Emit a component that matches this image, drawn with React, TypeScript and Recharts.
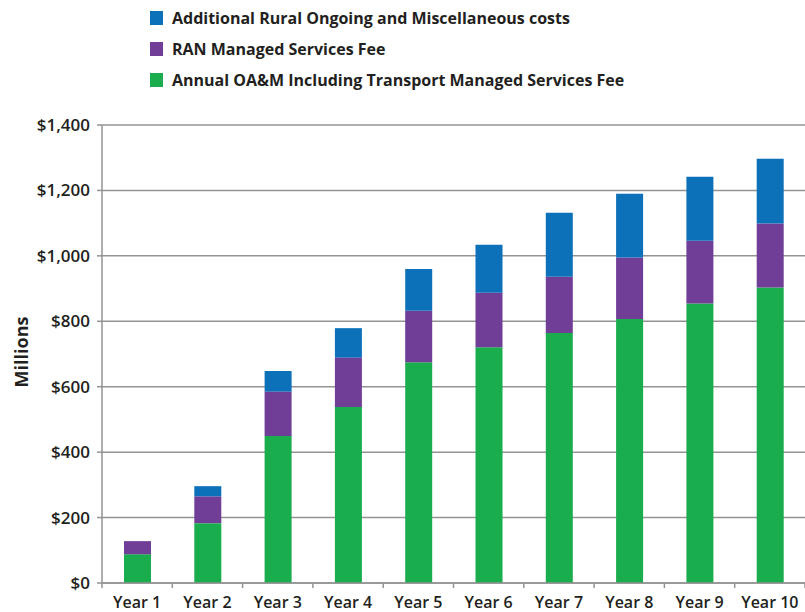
import React from 'react';
import { BarChart, Bar, XAxis, YAxis, CartesianGrid } from 'recharts';

const years = ['Year 1', 'Year 2', 'Year 3', 'Year 4', 'Year 5', 'Year 6', 'Year 7', 'Year 8', 'Year 9', 'Year 10'];
const oamFee = [88, 183, 449, 538, 675, 721, 764, 807, 854, 903];
const ranFee = [40, 82, 136, 151, 157, 166, 172, 188, 192, 196];
const ruralCosts = [0, 31, 63, 90, 128, 147, 196, 195, 196, 198];
const yTicks = [0, 200, 400, 600, 800, 1000, 1200, 1400];

const SERIES = [
  { key: 'rural', name: 'Additional Rural Ongoing and Miscellaneous costs', color: '#0d71b9' },
  { key: 'ran', name: 'RAN Managed Services Fee', color: '#703d97' },
  { key: 'oam', name: 'Annual OA&M Including Transport Managed Services Fee', color: '#1aad4e' },
];

const data = years.map((name, i) => ({
  name,
  oam: oamFee[i],
  ran: ranFee[i],
  rural: ruralCosts[i],
}));

const W = 805;
const H = 612;
const Y_AXIS_W = 102;
const BAND = (W - Y_AXIS_W) / years.length;
const FONT = '"Open Sans", sans-serif';
const TEXT = '#231f20';
const GRID = '#939393';

const XTick = (props: any) => {
  const { x, y, payload, index } = props;
  return (
    <g>
      <line x1={x - BAND / 2} x2={x - BAND / 2} y1={y} y2={y + 5} stroke={GRID} strokeWidth={1.5} />
      {index === years.length - 1 && (
        <line x1={x + BAND / 2} x2={x + BAND / 2} y1={y} y2={y + 5} stroke={GRID} strokeWidth={1.5} />
      )}
      <text x={x} y={y + 21} textAnchor="middle" dominantBaseline="middle"
        fontFamily={FONT} fontWeight={600} fontSize={16} fill={TEXT}>
        {payload.value}
      </text>
    </g>
  );
};

const fmt = (v: number) => '$' + v.toLocaleString('en-US');

export default function App() {
  return (
    <div style={{ position: 'absolute', left: 0, top: 0, width: W, height: H, background: '#fff' }}>
      <div style={{ position: 'absolute', left: 150, top: 2, fontFamily: FONT, fontWeight: 700, fontSize: 16, color: TEXT }}>
        {SERIES.map((s) => (
          <div key={s.key} style={{ display: 'flex', alignItems: 'center', height: 31 }}>
            <span style={{ width: 13, height: 14, background: s.color, marginRight: 9, display: 'inline-block' }} />
            {s.name}
          </div>
        ))}
      </div>
      <div style={{ position: 'absolute', left: 21, top: 352, transform: 'translate(-50%, -50%) rotate(-90deg)',
        fontFamily: FONT, fontWeight: 700, fontSize: 18, color: TEXT, whiteSpace: 'nowrap' }}>
        Millions
      </div>
      <BarChart width={W} height={H} data={data} margin={{ top: 125, right: 0, bottom: 0, left: 0 }} barSize={27}>
        <CartesianGrid vertical={false} stroke={GRID} strokeWidth={1.5} />
        <XAxis dataKey="name" height={29} tickLine={false} tickSize={0} tickMargin={0}
          axisLine={{ stroke: GRID, strokeWidth: 1.5 }} tick={<XTick />} interval={0} />
        <YAxis width={Y_AXIS_W} domain={[0, 1400]} ticks={yTicks} tickFormatter={fmt}
          axisLine={{ stroke: GRID, strokeWidth: 1.5 }} tickLine={{ stroke: GRID, strokeWidth: 1.5 }}
          tickSize={5} tickMargin={7}
          tick={{ fontFamily: FONT, fontWeight: 600, fontSize: 17, fill: TEXT }} />
        <Bar dataKey="oam" stackId="a" fill={SERIES[2].color} isAnimationActive={false} />
        <Bar dataKey="ran" stackId="a" fill={SERIES[1].color} isAnimationActive={false} />
        <Bar dataKey="rural" stackId="a" fill={SERIES[0].color} isAnimationActive={false} />
      </BarChart>
    </div>
  );
}
